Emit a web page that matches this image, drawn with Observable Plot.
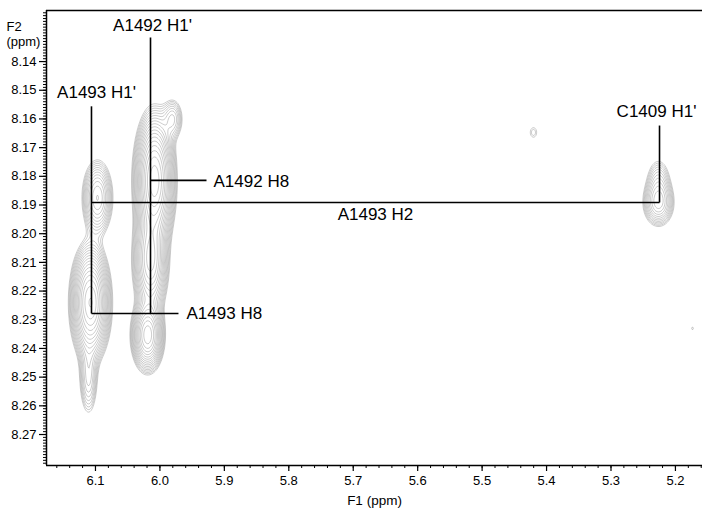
<!DOCTYPE html>
<html><head><meta charset="utf-8">
<script src="https://cdn.jsdelivr.net/npm/d3@7"></script>
<script src="https://cdn.jsdelivr.net/npm/@observablehq/plot@0.6"></script>
<style>
body{margin:0;background:#fff;}
#chart svg{display:block;}
</style>
</head><body><div id="chart"></div>
<script>
// Cross-peak parameters (ppm, relative height)
const peakF1      = [6.0969, 6.1077, 6.1108, 6.0084, 6.0146, 6.0190, 5.9800, 5.2263, 5.2263, 5.4203, 5.1735];
const peakF2      = [8.1875, 8.2240, 8.2500, 8.1814, 8.2093, 8.2354, 8.1600, 8.1894, 8.1821, 8.1647, 8.2330];
const peakWidthF1 = [0.0120, 0.0138, 0.0080, 0.0140, 0.0128, 0.0115, 0.0090, 0.0124, 0.0109, 0.0062, 0.0031];
const peakWidthF2 = [0.0066, 0.0090, 0.0075, 0.0105, 0.0090, 0.0058, 0.0040, 0.0042, 0.0049, 0.0021, 0.0010];
const peakHeight  = [0.30,   0.90,   0.15,   1.00,   0.55,   0.70,   0.14,   0.25,   0.12,   0.055,  0.045];

// Axis ticks
const xTicks = [6.1, 6.0, 5.9, 5.8, 5.7, 5.6, 5.5, 5.4, 5.3, 5.2];
const xMinorTicks = d3.range(516, 617, 2).map(v => v / 100);
const yTicks = [8.14, 8.15, 8.16, 8.17, 8.18, 8.19, 8.20, 8.21, 8.22, 8.23, 8.24, 8.25, 8.26, 8.27];
const yMinorTicks = d3.range(8123, 8281).map(v => v / 1000);
const xDomain = [6.176, 5.158];
const yDomain = [8.2808, 8.1222];

// Assignment lines (ppm)
const segX1 = [6.0146, 6.1062, 6.0146, 6.1062, 6.1062, 5.2247];
const segY1 = [8.1316, 8.1556, 8.1814, 8.1891, 8.2278, 8.1623];
const segX2 = [6.0146, 6.1062, 5.9277, 5.2247, 5.9712, 5.2247];
const segY2 = [8.2278, 8.2278, 8.1814, 8.1891, 8.2278, 8.1891];

// Assignment labels
const labelText   = ["A1492 H1'", "A1493 H1'", "C1409 H1'", "A1493 H2", "A1492 H8", "A1493 H8"];
const labelF1     = [6.0115, 6.0984, 5.2294, 5.6655, 5.9168, 5.9587];
const labelF2     = [8.1274, 8.1508, 8.1574, 8.1933, 8.1818, 8.2278];
const labelAnchor = ["middle", "middle", "middle", "middle", "start", "start"];

const segments = segX1.map((_, i) => ({x1: segX1[i], y1: segY1[i], x2: segX2[i], y2: segY2[i]}));
const labels = labelText.map((t, i) => ({t, x: labelF1[i], y: labelF2[i], a: labelAnchor[i]}));

const field = (x, y) => {
  let s = 0;
  for (let i = 0; i < peakF1.length; i++) {
    const dx = (x - peakF1[i]) / peakWidthF1[i];
    const dy = (y - peakF2[i]) / peakWidthF2[i];
    s += peakHeight[i] * Math.exp(-0.5 * (dx * dx + dy * dy));
  }
  return s;
};
const thresholds = d3.range(19).map(k => 0.04 * Math.pow(1.2, k));

const font = "Liberation Sans, Arial, Helvetica, sans-serif";

const chart = Plot.plot({
  width: 702,
  height: 512,
  marginLeft: 46,
  marginTop: 10,
  marginBottom: 47,
  marginRight: 0,
  style: {fontFamily: font, fontSize: "13px", color: "#000", background: "#fff"},
  x: {domain: xDomain},
  y: {domain: yDomain},
  marks: [
    Plot.contour({value: field, x1: xDomain[0], x2: xDomain[1], y1: yDomain[1], y2: yDomain[0],
      thresholds, pixelSize: 1, fill: "none", stroke: "#a3a3a3", strokeWidth: 0.55}),
    Plot.axisX(xMinorTicks, {tickSize: 3, tickFormat: () => "", label: null, strokeWidth: 1}),
    Plot.axisX(xTicks, {tickSize: 6, tickPadding: 4, tickFormat: d => d.toFixed(1), label: null, fontSize: 13, strokeWidth: 1.2}),
    Plot.axisY(yMinorTicks, {tickSize: 3, tickFormat: () => "", label: null, strokeWidth: 1}),
    Plot.axisY(yTicks, {tickSize: 7, tickPadding: 3, tickFormat: d => d.toFixed(2), label: null, fontSize: 13, strokeWidth: 1.2}),
    Plot.ruleX([xDomain[0]], {strokeWidth: 1.5}),
    Plot.ruleY([yDomain[0], yDomain[1]], {strokeWidth: 1.5}),
    Plot.link(segments, {x1: "x1", y1: "y1", x2: "x2", y2: "y2", stroke: "#000", strokeWidth: 1.6}),
    Plot.text(labels.filter(d => d.a === "middle"), {x: "x", y: "y", text: "t", textAnchor: "middle", fontSize: 17, fill: "#000"}),
    Plot.text(labels.filter(d => d.a === "start"), {x: "x", y: "y", text: "t", textAnchor: "start", fontSize: 17, fill: "#000"}),
    Plot.text(["F2"], {frameAnchor: "top-left", dx: -40, dy: 11, textAnchor: "start", fontSize: 13}),
    Plot.text(["(ppm)"], {frameAnchor: "top-left", dx: -40, dy: 26, textAnchor: "start", fontSize: 13}),
    Plot.text(["F1 (ppm)"], {frameAnchor: "bottom", dy: 39, fontSize: 13.5})
  ]
});
document.getElementById("chart").appendChild(chart);
</script>
</body></html>
